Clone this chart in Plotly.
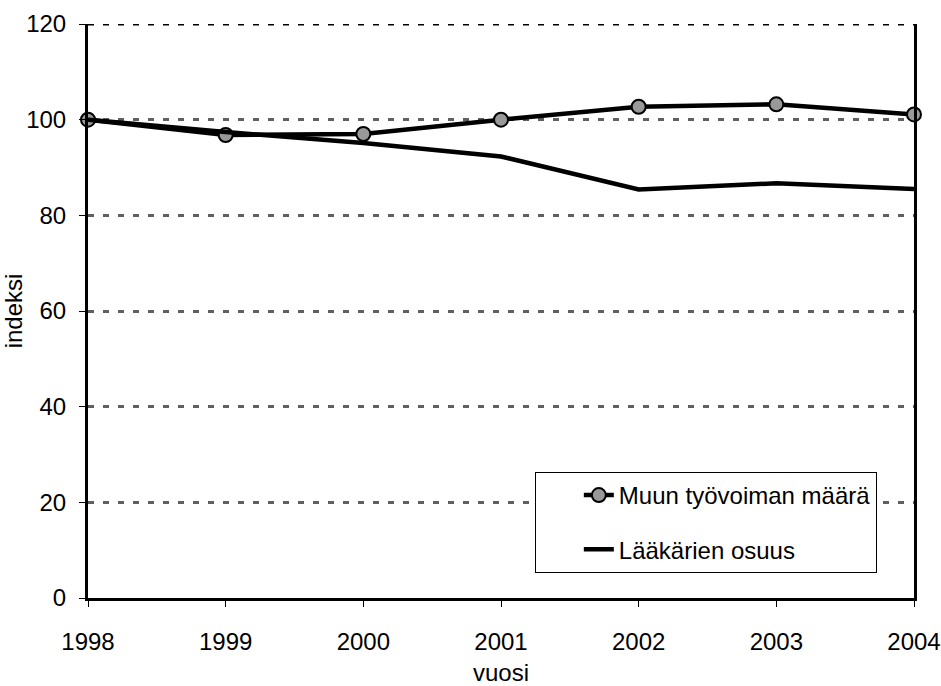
import plotly.graph_objects as go

years = ["1998", "1999", "2000", "2001", "2002", "2003", "2004"]
muun = [100, 96.8, 97.0, 100, 102.7, 103.2, 101.1]
laak = [100, 97.4, 95.1, 92.3, 85.4, 86.7, 85.5]
y_ticks = [0, 20, 40, 60, 80, 100, 120]

FONT = "Liberation Sans, Arial, sans-serif"
FS = 24

fig = go.Figure()
fig.add_trace(go.Scatter(
    x=list(range(len(years))), y=muun, mode="lines+markers",
    name="Muun työvoiman määrä", legendgroup="a",
    line=dict(color="black", width=4.5),
    marker=dict(size=14, color="#999999", line=dict(color="black", width=2)),
    cliponaxis=False,
))
fig.add_trace(go.Scatter(
    x=list(range(len(years))), y=laak, mode="lines",
    name="Lääkärien osuus", legendgroup="b",
    line=dict(color="black", width=4.5),
    cliponaxis=False,
))

# top boundary dashed line at 120
fig.add_shape(type="line", xref="paper", yref="y", x0=0, x1=1, y0=120, y1=120,
              line=dict(color="black", width=3, dash="6px,9px"), layer="below")

fig.update_layout(
    width=941, height=686,
    margin=dict(l=88, r=27, t=24, b=88),
    paper_bgcolor="white", plot_bgcolor="white",
    font=dict(family=FONT, size=FS, color="black"),
    showlegend=True,
    legend=dict(
        x=0.955, y=0.0436, xanchor="right", yanchor="bottom",
        bgcolor="white", bordercolor="black", borderwidth=1,
        font=dict(family=FONT, size=FS, color="black"),
        tracegroupgap=20, indentation=43,
    ),
    xaxis=dict(
        range=[0, len(years) - 1],
        tickmode="array", tickvals=list(range(len(years))), ticktext=years,
        showgrid=False, zeroline=False, automargin=False,
        showline=True, linecolor="black", linewidth=3,
        ticks="outside", ticklen=6, tickcolor="black", tickwidth=1,
        ticklabelstandoff=14,
        title=dict(text="vuosi", font=dict(family=FONT, size=FS), standoff=20),
        tickfont=dict(family=FONT, size=FS),
    ),
    yaxis=dict(
        range=[0, 120],
        tickmode="array", tickvals=y_ticks,
        showgrid=True, gridcolor="#606060", gridwidth=3, griddash="6px,9px",
        zeroline=False, automargin=False,
        showline=True, linecolor="black", linewidth=3, mirror=True,
        ticks="outside", ticklen=6, tickcolor="black", tickwidth=1,
        ticklabelstandoff=8,
        title=dict(text="indeksi", font=dict(family=FONT, size=FS), standoff=6),
        tickfont=dict(family=FONT, size=FS),
    ),
)

fig.write_html("out.html")
